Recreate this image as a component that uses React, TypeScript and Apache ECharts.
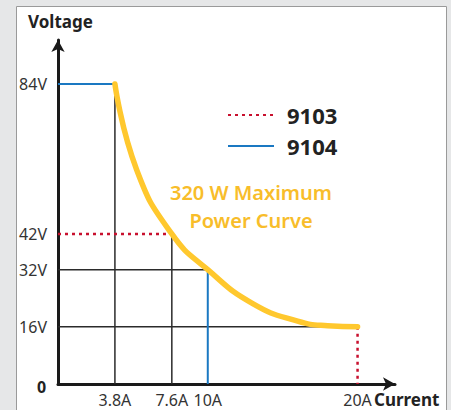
import React, { useEffect, useRef } from "react";
import * as echarts from "echarts";

const currentTicks = [3.8, 7.6, 10, 20];
const voltageTicks = [16, 32, 42, 84];
const curveCurrent = [3.8, 5.25, 7.6, 10, 13, 16, 18, 20];
const curveVoltage = [84, 60, 42, 32, 22.5, 17.6, 16.3, 16];
const red9103a = [[0, 42], [7.6, 42]];
const red9103b = [[20, 16], [20, 0]];
const blue9104a = [[0, 84], [3.8, 84]];
const blue9104b = [[10, 32], [10, 0]];
const guides = [
  [[3.8, 84], [3.8, 0]],
  [[7.6, 42], [7.6, 0]],
  [[0, 32], [10, 32]],
  [[0, 16], [20, 16]],
];

const FONT = "'Noto Sans', sans-serif";

export default function App() {
  const ref = useRef<HTMLDivElement>(null);
  useEffect(() => {
    if (!ref.current) return;
    const chart = echarts.init(ref.current, undefined, { renderer: "svg" });
    const guideSeries = guides.map((g) => ({
      type: "line",
      data: g,
      symbol: "none",
      silent: true,
      z: 2,
      lineStyle: { color: "#2b2b2b", width: 1.5 },
    }));
    chart.setOption({
      animation: false,
      backgroundColor: "#e6e7e8",
      textStyle: { fontFamily: FONT },
      grid: { left: 58, right: 56, top: 40, bottom: 26 },
      legend: {
        data: ["9103", "9104"],
        orient: "vertical",
        left: 222,
        top: 99,
        itemWidth: 46,
        itemHeight: 14,
        itemGap: 9,
        itemStyle: { opacity: 0 },
        textStyle: { fontSize: 22, fontWeight: "bold", color: "#222", padding: [0, 0, 0, 8], fontFamily: FONT },
      },
      xAxis: {
        type: "value",
        min: 0,
        max: 22.5,
        splitLine: { show: false },
        axisTick: { show: false },
        axisLine: {
          show: true,
          lineStyle: { color: "#1a1a1a", width: 3 },
          symbol: ["none", "arrow"],
          symbolSize: [10, 12],
        },
        axisLabel: {
          customValues: currentTicks,
          formatter: (v: number) => v + "A",
          color: "#333",
          fontSize: 16,
          margin: 8,
          fontFamily: FONT,
        },
      },
      yAxis: {
        type: "value",
        min: 0,
        max: 96.3,
        splitLine: { show: false },
        axisTick: { show: false },
        axisLine: {
          show: true,
          lineStyle: { color: "#1a1a1a", width: 3 },
          symbol: ["none", "arrow"],
          symbolSize: [10, 12],
        },
        axisLabel: {
          customValues: voltageTicks,
          formatter: (v: number) => v + "V",
          color: "#333",
          fontSize: 16,
          margin: 11,
          fontFamily: FONT,
        },
      },
      graphic: [
        {
          type: "rect",
          z: -10,
          shape: { x: 16.5, y: 6.5, width: 430, height: 420 },
          style: { fill: "#fff", stroke: "#9a9a9a", lineWidth: 1 },
        },
        {
          type: "text",
          left: 28,
          top: 13,
          style: { text: "Voltage", font: `bold 17px ${FONT}`, fill: "#222" },
        },
        {
          type: "text",
          left: 374,
          top: 391,
          style: { text: "Current", font: `bold 17px ${FONT}`, fill: "#222" },
        },
        {
          type: "text",
          left: 37,
          top: 379,
          style: { text: "0", font: `bold 16px ${FONT}`, fill: "#222" },
        },
        {
          type: "text",
          x: 251,
          y: 206,
          style: {
            text: "320 W Maximum\nPower Curve",
            font: `600 20px ${FONT}`,
            fill: "#f8bd2a",
            align: "center",
            verticalAlign: "middle",
            lineHeight: 28,
          },
          z: 5,
        },
      ],
      series: [
        ...guideSeries,
        {
          name: "9104",
          type: "line",
          data: blue9104a,
          symbol: "none",
          z: 3,
          color: "#1a78c2",
          lineStyle: { color: "#1a78c2", width: 2 },
        },
        {
          name: "9104",
          type: "line",
          data: blue9104b,
          symbol: "none",
          z: 3,
          color: "#1a78c2",
          lineStyle: { color: "#1a78c2", width: 2 },
        },
        {
          name: "9103",
          type: "line",
          data: red9103a,
          symbol: "none",
          z: 3,
          color: "#c8102e",
          lineStyle: { color: "#c8102e", width: 2.5, type: [3, 4] },
        },
        {
          name: "9103",
          type: "line",
          data: red9103b,
          symbol: "none",
          z: 3,
          color: "#c8102e",
          lineStyle: { color: "#c8102e", width: 2.5, type: [3, 4] },
        },
        {
          name: "320 W Maximum Power Curve",
          type: "line",
          data: curveCurrent.map((c, i) => [c, curveVoltage[i]]),
          symbol: "none",
          smooth: 0.5,
          z: 4,
          lineStyle: { color: "#ffc82e", width: 5.5, cap: "round" },
        },
      ],
    });
    return () => chart.dispose();
  }, []);
  return <div ref={ref} style={{ position: "fixed", left: 0, top: 0, width: 451, height: 410 }} />;
}
